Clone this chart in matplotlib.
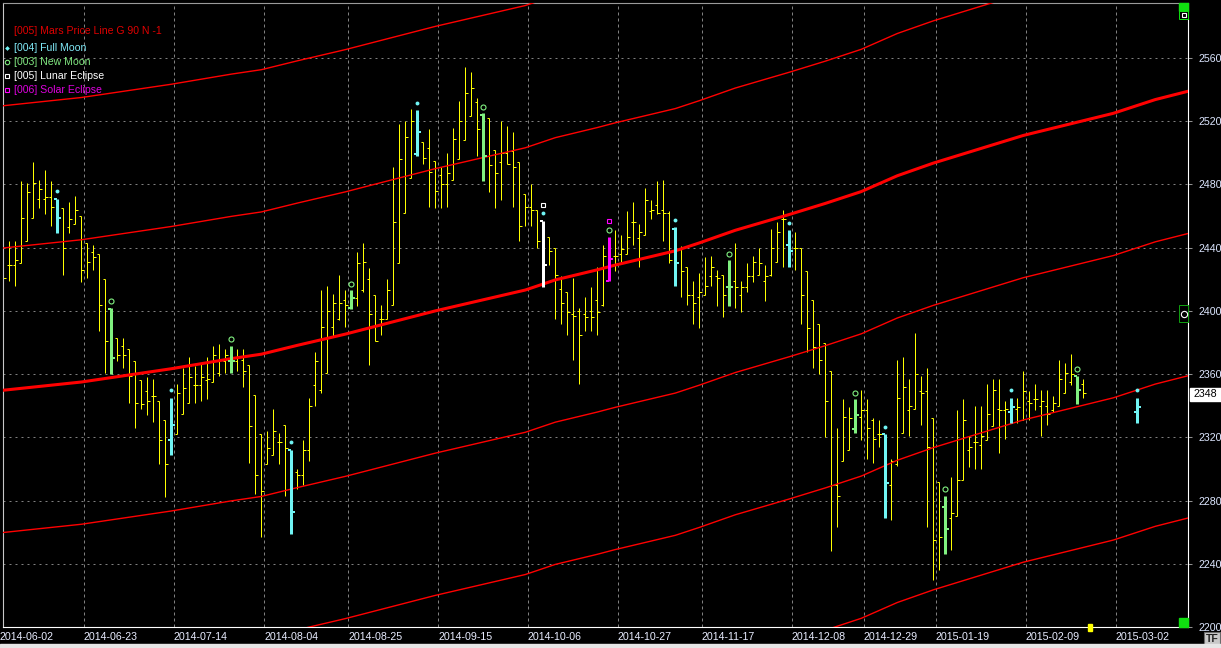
import matplotlib
matplotlib.use('Agg')
import matplotlib.pyplot as plt
import matplotlib.transforms as mtransforms
from matplotlib.lines import Line2D
from matplotlib.patches import Rectangle

plt.rcParams['font.family'] = ['Liberation Sans', 'DejaVu Sans']
plt.rcParams['lines.scale_dashes'] = False

W, H = 1221, 648

# daily bars, index 0 = 2014-06-02 (trading days)
opens = [2436, 2429, 2429, 2430, 2444, 2459, 2471, 2471, 2472, 2471,
         2465, 2453, 2455, 2460, 2443, 2437, 2436, 2420, 2401, 2383,
         2378, 2376, 2368, 2356, 2349, 2346, 2343, 2331, 2318, 2322,
         2335, 2342, 2353, 2353, 2356, 2355, 2361, 2368, 2368, 2368,
         2369, 2366, 2347, 2322, 2303, 2309, 2317, 2328, 2312, 2298,
         2296, 2312, 2353, 2350, 2361, 2390, 2395, 2407, 2402, 2408,
         2413, 2420, 2410, 2395, 2395, 2404, 2430, 2462, 2484, 2499,
         2507, 2503, 2495, 2486, 2480, 2483, 2496, 2508, 2523, 2532,
         2524, 2522, 2502, 2494, 2500, 2501, 2494, 2474, 2466, 2464,
         2457, 2447, 2440, 2414, 2412, 2398, 2400, 2398, 2400, 2407,
         2404, 2419, 2435, 2436, 2436, 2456, 2446, 2448, 2463, 2467,
         2464, 2462, 2452, 2440, 2428, 2410, 2409, 2410, 2422, 2422,
         2423, 2415, 2419, 2410, 2415, 2422, 2423, 2419, 2423, 2431,
         2458, 2442, 2440, 2440, 2425, 2407, 2392, 2380, 2362, 2290,
         2305, 2312, 2325, 2333, 2337, 2331, 2322, 2322, 2290, 2303,
         2323, 2337, 2338, 2349, 2349, 2332, 2292, 2276, 2269, 2270,
         2293, 2312, 2317, 2315, 2318, 2327, 2338, 2337, 2336, 2338,
         2331, 2343, 2344, 2340, 2340, 2337, 2340, 2348, 2355, 2359,
         2354]
highs = [2442, 2444, 2444, 2482, 2481, 2494, 2483, 2489, 2482, 2471,
         2465, 2469, 2473, 2460, 2443, 2442, 2436, 2420, 2402, 2383,
         2383, 2376, 2368, 2356, 2358, 2357, 2343, 2331, 2345, 2354,
         2364, 2371, 2365, 2367, 2371, 2378, 2379, 2376, 2378, 2376,
         2376, 2366, 2347, 2322, 2324, 2338, 2323, 2328, 2312, 2300,
         2318, 2345, 2374, 2413, 2416, 2411, 2423, 2413, 2413, 2437,
         2443, 2427, 2410, 2404, 2420, 2491, 2518, 2520, 2528, 2527,
         2507, 2515, 2495, 2491, 2500, 2516, 2533, 2554, 2551, 2535,
         2525, 2522, 2502, 2520, 2517, 2513, 2494, 2474, 2480, 2464,
         2457, 2447, 2440, 2422, 2412, 2421, 2402, 2409, 2415, 2428,
         2442, 2447, 2451, 2448, 2463, 2469, 2455, 2478, 2470, 2482,
         2483, 2463, 2453, 2441, 2428, 2419, 2424, 2434, 2435, 2426,
         2423, 2432, 2443, 2419, 2430, 2435, 2440, 2429, 2452, 2456,
         2464, 2451, 2450, 2440, 2425, 2407, 2392, 2380, 2362, 2326,
         2344, 2339, 2344, 2350, 2344, 2332, 2331, 2322, 2306, 2369,
         2371, 2357, 2386, 2359, 2364, 2332, 2292, 2283, 2295, 2337,
         2344, 2321, 2340, 2340, 2354, 2357, 2357, 2343, 2345, 2345,
         2362, 2349, 2354, 2350, 2350, 2346, 2369, 2367, 2373, 2359,
         2357]
lows = [2415, 2419, 2416, 2430, 2444, 2459, 2465, 2461, 2454, 2449,
        2423, 2449, 2455, 2418, 2421, 2426, 2387, 2361, 2360, 2368,
        2364, 2342, 2326, 2338, 2334, 2330, 2303, 2282, 2309, 2322,
        2335, 2342, 2342, 2343, 2344, 2355, 2359, 2361, 2361, 2362,
        2352, 2304, 2284, 2257, 2303, 2309, 2303, 2283, 2259, 2287,
        2290, 2305, 2340, 2348, 2361, 2384, 2394, 2390, 2401, 2403,
        2412, 2366, 2381, 2385, 2395, 2404, 2430, 2462, 2484, 2498,
        2493, 2466, 2465, 2465, 2466, 2483, 2496, 2508, 2523, 2498,
        2482, 2475, 2465, 2470, 2493, 2466, 2444, 2454, 2454, 2440,
        2415, 2429, 2395, 2392, 2385, 2369, 2354, 2387, 2387, 2385,
        2403, 2419, 2425, 2431, 2436, 2442, 2428, 2448, 2458, 2461,
        2444, 2430, 2416, 2409, 2404, 2392, 2389, 2410, 2416, 2403,
        2396, 2403, 2402, 2399, 2412, 2418, 2423, 2406, 2422, 2431,
        2428, 2428, 2426, 2392, 2374, 2364, 2360, 2320, 2248, 2263,
        2305, 2312, 2323, 2318, 2306, 2304, 2314, 2269, 2268, 2302,
        2323, 2321, 2338, 2328, 2263, 2230, 2236, 2246, 2249, 2270,
        2293, 2301, 2300, 2300, 2318, 2327, 2310, 2319, 2329, 2329,
        2331, 2331, 2337, 2321, 2328, 2336, 2340, 2348, 2353, 2341,
        2345]
closes = [2421, 2429, 2432, 2459, 2475, 2481, 2477, 2472, 2466, 2459,
          2440, 2458, 2464, 2426, 2431, 2434, 2404, 2381, 2370, 2372,
          2372, 2359, 2342, 2341, 2343, 2346, 2318, 2303, 2328, 2348,
          2351, 2358, 2353, 2358, 2357, 2372, 2369, 2372, 2368, 2371,
          2362, 2327, 2296, 2286, 2313, 2324, 2317, 2313, 2273, 2296,
          2312, 2340, 2368, 2390, 2400, 2405, 2405, 2404, 2408, 2430,
          2431, 2398, 2381, 2395, 2413, 2456, 2496, 2510, 2520, 2513,
          2497, 2488, 2476, 2480, 2487, 2509, 2520, 2538, 2541, 2515,
          2498, 2492, 2487, 2500, 2493, 2491, 2454, 2466, 2464, 2444,
          2429, 2438, 2423, 2405, 2399, 2397, 2385, 2396, 2396, 2399,
          2435, 2433, 2435, 2439, 2447, 2456, 2450, 2470, 2464, 2462,
          2462, 2432, 2430, 2425, 2410, 2405, 2412, 2416, 2428, 2421,
          2410, 2415, 2415, 2415, 2422, 2431, 2430, 2422, 2440, 2450,
          2458, 2438, 2440, 2410, 2389, 2377, 2369, 2343, 2290, 2283,
          2333, 2332, 2334, 2337, 2326, 2319, 2322, 2291, 2305, 2345,
          2352, 2340, 2360, 2348, 2314, 2255, 2257, 2262, 2272, 2293,
          2331, 2314, 2317, 2321, 2335, 2350, 2337, 2338, 2339, 2339,
          2349, 2342, 2344, 2343, 2335, 2342, 2357, 2361, 2360, 2350,
          2348]

# bar drawn ahead on the next full moon
proj_idx = 189
proj_o, proj_h, proj_l, proj_c = 2336, 2345, 2329, 2339

full_moon = [9, 28, 48, 69, 90, 112, 131, 147, 168, 189]
new_moon = [18, 38, 58, 80, 101, 121, 142, 157, 179]
lunar_eclipse = [90]
solar_eclipse = [101]

date_labels = ['2014-06-02', '2014-06-23', '2014-07-14', '2014-08-04', '2014-08-25',
               '2014-09-15', '2014-10-06', '2014-10-27', '2014-11-17', '2014-12-08',
               '2014-12-29', '2015-01-19', '2015-02-09', '2015-03-02']
date_pos = [0, 14, 29, 44, 58, 73, 88, 103, 117, 132, 144, 156, 171, 186]

price_ticks = [2200, 2240, 2280, 2320, 2360, 2400, 2440, 2480, 2520, 2560]

# Mars price line (read at these bar positions), plus harmonics
mars_idx = [0, 13, 28, 38, 43, 49, 57, 72, 87, 92, 99, 102, 112, 116, 122,
            131, 137, 143, 149, 155, 170, 185, 192, 197.5]
mars_val = [2349.8, 2355.0, 2363.4, 2369.8, 2372.6, 2378.2, 2385.3, 2400.0,
            2413.2, 2419.6, 2426.0, 2429.0, 2438.0, 2443.0, 2451.0, 2461.0,
            2468.0, 2475.5, 2485.5, 2493.5, 2511.0, 2525.0, 2533.7, 2539.0]
mars_offsets = [-270, -180, -90, 90, 180]

last_price = 2348

YELLOW = '#ffff00'
CYAN = '#70f4f4'
GREEN = '#80f080'
MAGENTA = '#ff00ff'
GRID = '#808080'
PX = 0.72  # one pixel in points at 100 dpi


def fx(x):
    return x / W


def fy(y):
    return 1 - y / H


fig = plt.figure(figsize=(W / 100, H / 100), dpi=100, facecolor='black')
ax = fig.add_axes([3 / W, 1 - 627 / H, 1185 / W, 624 / H])
ax.set_facecolor('black')
ax.set_xlim(-0.05, 197.45)
ax.set_ylim(2200, 2594.8)

# grid
for p in price_ticks[1:]:
    ax.axhline(p, color=GRID, lw=PX, ls=(0, (1.44, 2.88)), zorder=1, snap=True)
for d in date_pos:
    ax.axvline(d - 0.5, color=GRID, lw=PX, ls=(0, (2.16, 2.16)), zorder=1, snap=True)


def bar_color(i):
    if i in solar_eclipse:
        return MAGENTA
    if i in lunar_eclipse:
        return 'white'
    if i in full_moon:
        return CYAN
    if i in new_moon:
        return GREEN
    return None


# plain yellow bars
for i in range(len(opens)):
    if bar_color(i) is not None:
        continue
    ax.plot([i, i], [lows[i], highs[i]], color=YELLOW, lw=PX, zorder=2, snap=True,
            solid_capstyle='butt')
    ax.plot([i - 0.4, i], [opens[i], opens[i]], color=YELLOW, lw=PX, zorder=2, snap=True,
            solid_capstyle='butt')
    ax.plot([i, i + 0.45], [closes[i], closes[i]], color=YELLOW, lw=PX, zorder=2, snap=True,
            solid_capstyle='butt')

# Mars price lines
ax.plot(mars_idx, mars_val, color='red', lw=2.2, zorder=3)
for off in mars_offsets:
    ax.plot(mars_idx, [v + off for v in mars_val], color='red', lw=1.0, zorder=3)

# coloured bars on moon / eclipse days
pad = [None] * (proj_idx - len(opens))
all_o = opens + pad + [proj_o]
all_h = highs + pad + [proj_h]
all_l = lows + pad + [proj_l]
all_c = closes + pad + [proj_c]

for i in sorted(set(full_moon + new_moon)):
    c = bar_color(i)
    ax.plot([i, i], [all_l[i], all_h[i]], color=c, lw=3 * PX, zorder=4, snap=True,
            solid_capstyle='butt')
    ax.plot([i - 0.6, i], [all_o[i], all_o[i]], color=c, lw=2 * PX, zorder=4, snap=True,
            solid_capstyle='butt')
    ax.plot([i, i + 0.6], [all_c[i], all_c[i]], color=c, lw=2 * PX, zorder=4, snap=True,
            solid_capstyle='butt')

for i in full_moon:
    ax.plot(i, all_h[i] + 4.8, 'o', color=CYAN, ms=2.8, mew=0, zorder=5)
for i in new_moon:
    ax.plot(i, all_h[i] + 4.3, 'o', mfc='none', mec=GREEN, ms=3.6, mew=0.8, zorder=5)
for i in lunar_eclipse:
    ax.plot(i, all_h[i] + 10.0, 's', mfc='none', mec='white', ms=3.2, mew=0.8, zorder=5)
for i in solar_eclipse:
    ax.plot(i, all_h[i] + 10.0, 's', mfc='none', mec=MAGENTA, ms=3.2, mew=0.8, zorder=5)

# axes frame and price scale
ax.spines['left'].set_color('#c8c8c8')
ax.spines['right'].set_color('white')
ax.spines['bottom'].set_color('white')
ax.spines['top'].set_color('#9a9a9a')
for s in ax.spines.values():
    s.set_linewidth(0.8)

ax.set_xticks([])
ax.yaxis.tick_right()
ax.set_yticks(price_ticks)
ax.set_yticklabels([str(p) for p in price_ticks])
ax.tick_params(axis='y', length=2.9, width=0.75, color='#909090', pad=4.6,
               labelcolor='#dce6ff', labelsize=7.7)

# date labels, left aligned on their grid line
trans = mtransforms.blended_transform_factory(ax.transData, fig.transFigure)
for lab, d in zip(date_labels, date_pos):
    ax.text(d - 0.55, fy(636.5), lab, transform=trans, color='#e8ecff',
            fontsize=7.7, ha='left', va='center', clip_on=False)

# legend in the top left corner
fig.text(fx(13.5), fy(30.7), '[005] Mars Price Line G 90 N -1', color='#e00000',
         fontsize=7.6, va='center')
legend_rows = [
    ('[004] Full Moon', '#80eaf8', 'D', CYAN, 48.3),
    ('[003] New Moon', '#80e880', 'o', GREEN, 62.3),
    ('[005] Lunar Eclipse', 'white', 's', 'white', 76.3),
    ('[006] Solar Eclipse', '#e000e0', 's', MAGENTA, 90.0),
]
for txt, tcol, mk, mcol, ypx in legend_rows:
    fig.text(fx(13.5), fy(ypx), txt, color=tcol, fontsize=7.6, va='center')
    if mk == 'D':
        fig.add_artist(Line2D([fx(6.5)], [fy(ypx)], marker='D', color=mcol, ms=2.4,
                              mew=0, transform=fig.transFigure))
    else:
        fig.add_artist(Line2D([fx(6.5)], [fy(ypx)], marker=mk, mfc='none', mec=mcol,
                              ms=3.2, mew=0.8, transform=fig.transFigure))

# last price box
fig.patches.append(Rectangle((fx(1190), fy(400.5)), 31 / W, 13 / H, color='white',
                             transform=fig.transFigure))
fig.text(fx(1194), fy(394), str(last_price), color='black', fontsize=7.7, va='center')

# small control boxes on the right edge
fig.patches.append(Rectangle((fx(1179), fy(11)), 9 / W, 8 / H, color='#10e010',
                             transform=fig.transFigure))
fig.patches.append(Rectangle((fx(1179), fy(19)), 9 / W, 8 / H, facecolor='black',
                             edgecolor='#10e010', lw=0.7, transform=fig.transFigure))
fig.add_artist(Line2D([fx(1183.5)], [fy(15)], marker='s', mfc='none', mec='white',
                      ms=3, mew=0.8, transform=fig.transFigure))
fig.patches.append(Rectangle((fx(1179), fy(322)), 9 / W, 17 / H, facecolor='black',
                             edgecolor='#10a010', lw=0.7, transform=fig.transFigure))
fig.add_artist(Line2D([fx(1183.5)], [fy(313.5)], marker='o', mfc='none', mec='white',
                      ms=4.5, mew=0.8, transform=fig.transFigure))
fig.patches.append(Rectangle((fx(1179), fy(627)), 9 / W, 9 / H, color='#10e010',
                             transform=fig.transFigure))
# current bar marker on the time axis
fig.patches.append(Rectangle((fx(1088), fy(631)), 4 / W, 7 / H, color=YELLOW,
                             transform=fig.transFigure))

# TF button and bottom strip
fig.patches.append(Rectangle((fx(1204), fy(645)), 16 / W, 13 / H, facecolor='#c8c8c8',
                             edgecolor='#6a6a6a', lw=0.8, transform=fig.transFigure))
fig.text(fx(1212), fy(638.5), 'TF', color='#202020', fontsize=7.5, fontweight='bold',
         ha='center', va='center')
fig.patches.append(Rectangle((0, 0), 1, 4 / H, color='#e6e6e6', transform=fig.transFigure))

fig.savefig('out.png', dpi=100, facecolor='black')
